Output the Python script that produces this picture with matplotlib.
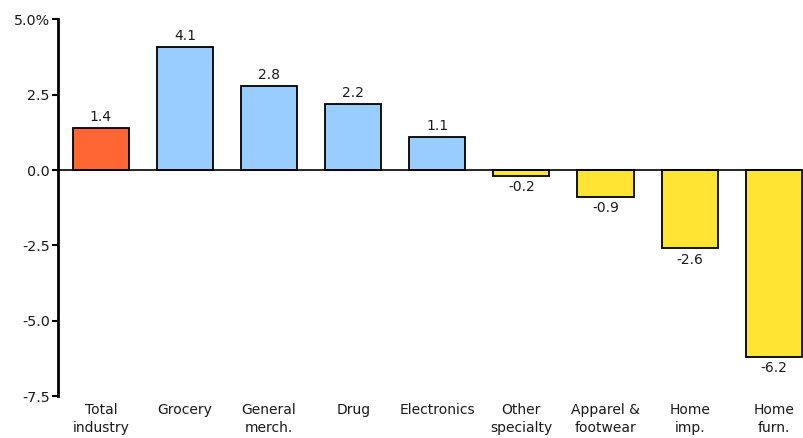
import matplotlib.pyplot as plt

plt.rcParams['font.family'] = 'DejaVu Sans'

categories = ["Total\nindustry", "Grocery", "General\nmerch.", "Drug", "Electronics",
              "Other\nspecialty", "Apparel &\nfootwear", "Home\nimp.", "Home\nfurn."]
values = [1.4, 4.1, 2.8, 2.2, 1.1, -0.2, -0.9, -2.6, -6.2]
colors = ["#FF6633"] + ["#99CCFF"] * 4 + ["#FFE433"] * 4
yticks = [5.0, 2.5, 0.0, -2.5, -5.0, -7.5]
ytick_labels = ["5.0%", "2.5", "0.0", "-2.5", "-5.0", "-7.5"]

fig = plt.figure(figsize=(8.04, 4.38), dpi=100)
ax = fig.add_axes([58 / 804, 1 - 396 / 438, 1 - 58 / 804, (396 - 19.4) / 438])

x = range(len(values))
ax.bar(x, values, width=0.667, color=colors, edgecolor="black", linewidth=1.3, zorder=2)
ax.axhline(0, color="black", linewidth=1.2, zorder=3)

for xi, v in zip(x, values):
    if v >= 0:
        ax.annotate(f"{v:.1f}", (xi, v), xytext=(0, 2.5), textcoords="offset points",
                    ha="center", va="bottom", fontsize=10, color="#1a1a1a")
    else:
        ax.annotate(f"{v:.1f}", (xi, v), xytext=(0, -3), textcoords="offset points",
                    ha="center", va="top", fontsize=10, color="#1a1a1a")

ax.set_xlim(-0.51, 8.36)
ax.set_ylim(-7.5, 5.0)
ax.set_yticks(yticks)
ax.set_yticklabels(ytick_labels, fontsize=10.3, color="#1a1a1a")
ax.set_xticks(list(x))
ax.set_xticklabels(categories, fontsize=10, color="#1a1a1a", linespacing=1.35)
ax.tick_params(axis="x", length=0, pad=5)
ax.tick_params(axis="y", length=4, width=1.5, pad=2)

for side in ["top", "right", "bottom"]:
    ax.spines[side].set_visible(False)
ax.spines["left"].set_linewidth(2)

fig.savefig("out.png", dpi=100)
